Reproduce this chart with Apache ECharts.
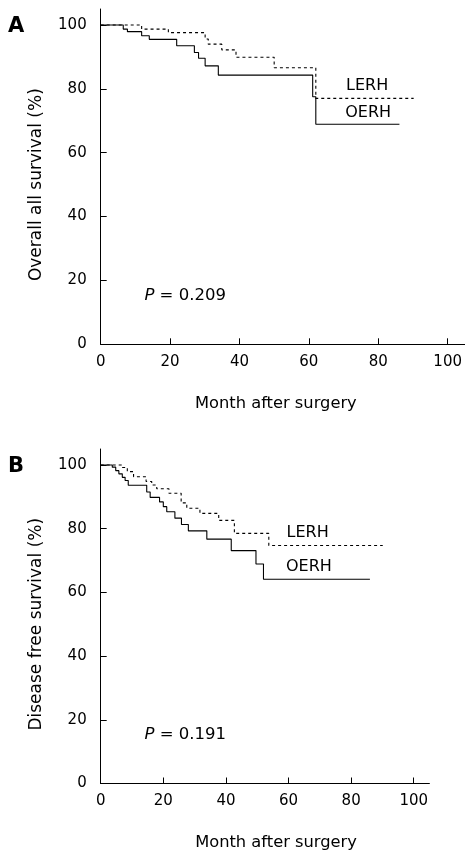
<!DOCTYPE html>
<html><head><meta charset="utf-8">
<script src="https://cdn.jsdelivr.net/npm/echarts@6/dist/echarts.min.js"></script>
<style>html,body{margin:0;padding:0;background:#fff}#c{width:465px;height:854px}</style>
</head><body><div id="c"></div>
<script>
// Tick labels
const xTicks = [0, 20, 40, 60, 80, 100];
const yTicks = [0, 20, 40, 60, 80, 100];
// Panel A: overall survival [month, %]
const osOERH = [[0,100],[6.5,98.7],[7.7,97.9],[11.8,96.6],[14.0,95.5],[21.9,93.5],[27.0,91.4],[28.2,89.6],[30.1,87.2],[33.9,84.3],[61.1,77.5],[62.0,68.9],[86.1,68.9]];
const osLERH = [[0,100],[11.8,98.7],[19.5,97.6],[30.1,95.6],[31.0,94.0],[34.9,92.2],[39.0,89.9],[50.0,86.6],[62.0,77.0],[90.2,77.0]];
// Panel B: disease free survival [month, %]
const dfsOERH = [[0,100],[3.7,99.3],[4.8,98.2],[5.8,97.2],[6.9,96.1],[7.8,95.1],[8.8,93.6],[14.7,91.5],[15.8,89.8],[18.8,88.4],[20.0,86.9],[21.1,85.3],[23.7,83.3],[25.8,81.3],[28.0,79.3],[33.9,76.7],[41.7,73.1],[49.6,68.9],[52.0,64.1],[86.0,64.1]];
const dfsLERH = [[0,100],[6.8,99.2],[8.5,97.9],[10.5,96.3],[14.5,94.8],[16.3,93.7],[17.9,92.5],[21.8,91.1],[25.7,88.1],[27.5,86.4],[31.7,84.8],[37.7,82.6],[42.7,78.5],[53.7,74.7],[90.1,74.7]];
const seriesNames = ['OERH', 'LERH'];
const pValues = ['0.209', '0.191'];
const yTitles = ['Overall all survival (%)', 'Disease free survival (%)'];
const xTitle = 'Month after surgery';
const panelLetters = ['A', 'B'];

const FONT = 'DejaVu Sans';
const chart = echarts.init(document.getElementById('c'), null, {renderer: 'canvas'});

function xAxisCfg(idx, pad) {
  return {
    type: 'value', gridIndex: idx, min: 0, max: 105,
    axisLine: {show: true, lineStyle: {color: '#000', width: 1}},
    axisTick: {show: true, inside: true, length: 6, lineStyle: {color: '#000'}, customValues: xTicks},
    axisLabel: {show: true, margin: 10, color: '#000', fontFamily: FONT, fontSize: 15, customValues: xTicks},
    splitLine: {show: false},
    name: xTitle, nameLocation: 'middle', nameGap: 51,
    nameTextStyle: {color: '#000', fontFamily: FONT, fontSize: 16.3, padding: pad}
  };
}
function yAxisCfg(idx) {
  return {
    type: 'value', gridIndex: idx, min: 0, max: 105,
    axisLine: {show: true, lineStyle: {color: '#000', width: 1}},
    axisTick: {show: true, inside: true, length: 6, lineStyle: {color: '#000'}, customValues: yTicks},
    axisLabel: {show: true, margin: 14, color: '#000', fontFamily: FONT, fontSize: 15, customValues: yTicks},
    splitLine: {show: false},
    name: yTitles[idx], nameLocation: 'middle', nameGap: 56, nameRotate: 90,
    nameTextStyle: {color: '#000', fontFamily: FONT, fontSize: 17, padding: [0, 16, 0, 0]}
  };
}
function labelMark(coord, text) {
  return {
    coord: coord, value: text, symbol: 'circle', symbolSize: 0,
    label: {show: true, position: 'inside', formatter: text, color: '#000', fontFamily: FONT, fontSize: 16}
  };
}
function pMark(coord, p) {
  return {
    coord: coord, symbol: 'circle', symbolSize: 0,
    label: {show: true, position: 'right', distance: 0, formatter: '{i|P} = ' + p,
      color: '#000', fontFamily: FONT, fontSize: 16.5,
      rich: {i: {fontStyle: 'italic', fontFamily: FONT, fontSize: 16.5, color: '#000'}}}
  };
}
function lineSeries(idx, data, dashed, marks) {
  return {
    type: 'line', xAxisIndex: idx, yAxisIndex: idx, data: data, step: 'end',
    showSymbol: false, symbol: 'none', silent: true, animation: false,
    lineStyle: {color: '#000', width: 1.1, type: dashed ? [3, 3] : 'solid'},
    markPoint: {silent: true, animation: false, data: marks}
  };
}

chart.setOption({
  animation: false,
  backgroundColor: '#fff',
  grid: [
    {left: 100.7, right: 0, top: 9, height: 335.3, containLabel: false},
    {left: 100.7, right: 35.6, top: 449, height: 334.5, containLabel: false}
  ],
  xAxis: [xAxisCfg(0, [0, 14, 0, 0]), xAxisCfg(1, [0, 0, 0, 22])],
  yAxis: [yAxisCfg(0), yAxisCfg(1)],
  graphic: [
    {type: 'text', left: 8, top: 16, style: {text: panelLetters[0], font: 'bold 21px "DejaVu Sans"', fill: '#000'}},
    {type: 'text', left: 8, top: 456, style: {text: panelLetters[1], font: 'bold 21px "DejaVu Sans"', fill: '#000'}}
  ],
  series: [
    lineSeries(0, osOERH, false, [labelMark([77.1, 72.5], seriesNames[0]), pMark([12.6, 15.1], pValues[0])]),
    lineSeries(0, osLERH, true, [labelMark([76.8, 81.0], seriesNames[1])]),
    lineSeries(1, dfsOERH, false, [labelMark([66.5, 68.1], seriesNames[0]), pMark([14.0, 15.2], pValues[1])]),
    lineSeries(1, dfsLERH, true, [labelMark([66.1, 78.6], seriesNames[1])])
  ]
});
</script>
</body></html>
